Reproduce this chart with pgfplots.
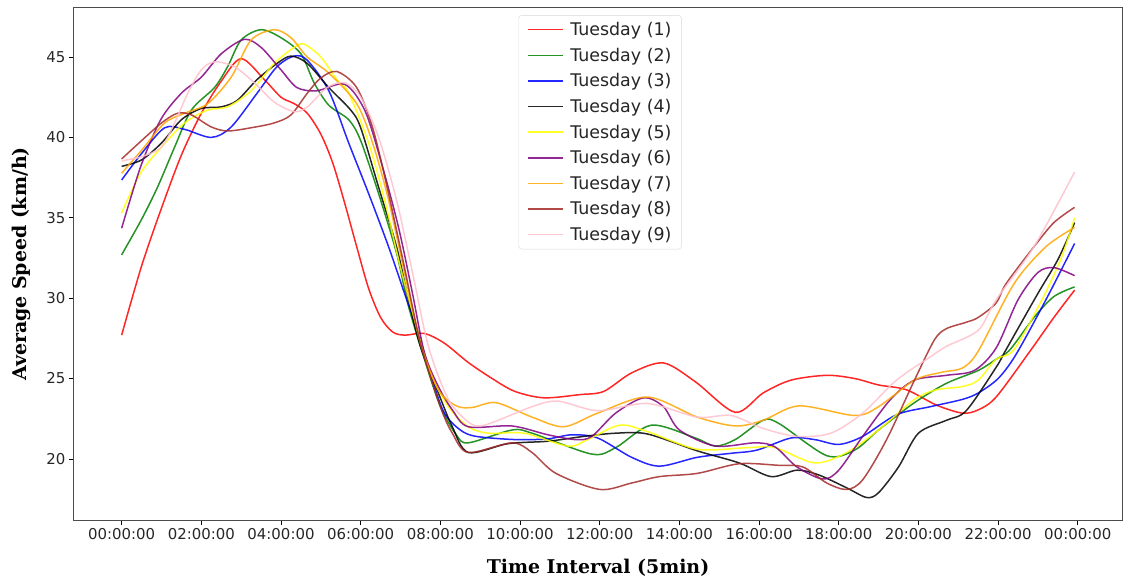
\documentclass[border=0pt]{standalone}
\usepackage{fontspec}
\setmainfont{DejaVu Sans}
\newfontfamily\labelserif{DejaVu Serif}
\usepackage{pgfplots}
\pgfplotsset{compat=1.18}
\definecolor{mred}{rgb}{1,0,0}
\definecolor{mgreen}{rgb}{0,0.5,0}
\definecolor{mblue}{rgb}{0,0,1}
\definecolor{mblack}{rgb}{0,0,0}
\definecolor{myellow}{rgb}{1,1,0}
\definecolor{mpurple}{rgb}{0.5,0,0.5}
\definecolor{morange}{rgb}{1,0.647,0}
\definecolor{mbrown}{rgb}{0.647,0.165,0.165}
\definecolor{mpink}{rgb}{1,0.753,0.796}
\begin{document}
\begin{tikzpicture}
\begin{axis}[
  at={(0,0)}, anchor=south west,
  scale only axis, width=1048bp, height=512bp,
  xmin=-1.196, xmax=25.11, ymin=16.2, ymax=48.05,
  xtick={0,2,...,24},
  xticklabels={00:00:00,02:00:00,04:00:00,06:00:00,08:00:00,10:00:00,12:00:00,14:00:00,16:00:00,18:00:00,20:00:00,22:00:00,00:00:00},
  ytick={20,25,30,35,40,45},
  xtick pos=lower, ytick pos=left,
  tick align=outside, major tick length=5bp,
  tick style={black, line width=0.8bp},
  axis line style={black!70, line width=1bp},
  tick label style={font=\fontsize{15}{18}\selectfont, text=black!85},
  /pgf/number format/assume math mode=true,
  xlabel={\labelserif\bfseries Time Interval (5min)},
  ylabel={\labelserif\bfseries Average Speed (km/h)},
  label style={font=\fontsize{19}{22}\selectfont},
  xlabel style={yshift=-12bp},
  ylabel style={yshift=9bp},
  legend style={at={(0.502,0.986)}, anchor=north, draw=black!15, rounded corners=3bp,
    font=\fontsize{17.5}{20}\selectfont, text=black!85, row sep=6.9bp,
    inner xsep=8bp, inner ysep=5bp},
  legend cell align=left,
  legend image code/.code={\draw[mark repeat=2,mark phase=2,#1,line width=1.5bp] plot coordinates {(0bp,0bp) (17.5bp,0bp) (35bp,0bp)};\path (40bp,0bp);},
  every axis plot/.append style={line width=1.5bp, smooth, opacity=0.85},
]
\addplot[mred] table {
0 27.7
0.5 32.0
1.0 35.6
1.5 38.9
2.0 41.5
2.5 43.5
3.0 44.9
3.58 43.6
4.0 42.5
4.33 42.1
4.66 41.5
5.0 40.2
5.3 38.4
5.6 35.9
5.9 33.2
6.2 30.6
6.5 28.8
6.8 27.9
7.1 27.7
7.6 27.8
8.1 27.2
8.7 26.0
9.3 25.0
9.87 24.2
10.6 23.8
11.5 24.0
12.1 24.2
12.8 25.35
13.6 25.97
14.4 24.8
15.4 22.9
16.1 24.1
16.8 24.9
17.7 25.2
18.4 25.0
19.0 24.6
19.7 24.3
20.45 23.35
21.1 22.85
21.5 23.05
21.95 23.85
22.8 26.7
23.4 28.8
23.92 30.5
};
\addlegendentry{Tuesday (1)}
\addplot[mgreen] table {
0 32.7
0.5 34.9
0.9 36.9
1.33 39.4
1.75 41.7
2.33 43.1
2.66 44.4
3.0 46.06
3.5 46.7
4.0 46.2
4.5 45.2
4.83 43.4
5.2 42.0
5.7 41.1
6.0 39.8
6.45 36.5
6.9 32.8
7.2 29.5
7.6 26.2
8.0 23.25
8.4 21.5
8.7 21.0
9.8 21.8
10.3 21.6
11.8 20.3
12.4 20.7
13.3 22.1
14.4 21.3
14.9 20.8
15.4 21.2
16.1 22.4
16.5 22.2
17.7 20.2
18.4 20.55
19.0 21.8
19.9 23.5
20.7 24.7
21.5 25.5
21.95 26.2
22.3 26.8
22.9 28.8
23.4 30.1
23.92 30.7
};
\addlegendentry{Tuesday (2)}
\addplot[mblue] table {
0 37.35
0.5 39.0
1.08 40.6
1.58 40.5
2.25 40.0
2.75 40.65
3.4 42.75
3.9 44.4
4.33 45.06
4.66 44.8
5.2 42.9
5.7 39.65
6.2 36.5
6.7 33.2
7.1 30.3
7.45 27.8
7.8 24.9
8.1 22.85
8.5 21.8
8.9 21.4
9.9 21.2
10.7 21.25
11.3 21.5
11.95 21.3
12.8 20.1
13.5 19.55
14.45 20.1
15.3 20.35
15.95 20.55
16.8 21.3
17.4 21.2
18.0 20.9
18.6 21.4
19.45 22.75
20.3 23.25
21.1 23.7
21.5 24.1
22.0 25.0
22.45 26.5
23.2 29.9
23.92 33.4
};
\addlegendentry{Tuesday (3)}
\addplot[mblack] table {
0 38.2
0.5 38.6
1.0 39.65
1.5 41.1
2.0 41.8
2.5 41.9
2.9 42.3
3.4 43.6
3.9 44.6
4.25 45.06
4.66 44.6
5.2 43.1
5.75 41.7
6.0 40.6
6.45 36.9
6.9 33.2
7.2 29.9
7.5 27.0
7.95 24.1
8.3 22.0
8.7 20.4
9.7 20.95
10.7 21.1
11.6 21.4
12.4 21.6
13.2 21.55
14.45 20.5
15.5 19.75
16.3 18.9
16.95 19.3
17.5 19.0
18.2 18.2
18.7 17.6
19.0 17.9
19.5 19.5
20.0 21.6
20.7 22.4
21.2 23.0
21.95 25.7
22.2 26.8
23.0 30.3
23.5 32.4
23.92 34.7
};
\addlegendentry{Tuesday (4)}
\addplot[myellow] table {
0 35.3
0.48 37.8
1.0 39.4
1.58 40.9
2.16 41.7
2.66 41.9
3.25 42.9
3.83 44.6
4.33 45.6
4.58 45.8
5.0 45.0
5.4 43.6
5.7 42.75
6.2 39.65
6.6 36.1
7.0 31.9
7.45 27.8
7.8 25.1
8.2 23.25
8.7 22.0
9.2 21.6
10.1 21.6
11.2 20.8
11.7 21.2
12.5 22.1
13.2 21.7
14.45 20.6
15.7 20.7
16.4 20.7
17.4 19.75
18.2 20.4
19.0 21.8
19.9 23.7
20.45 24.3
21.1 24.5
21.5 24.9
21.95 26.2
22.4 26.8
23.1 29.9
23.6 32.6
23.92 35.0
};
\addlegendentry{Tuesday (5)}
\addplot[mpurple] table {
0 34.35
0.48 38.2
0.98 41.1
1.5 42.75
2.0 43.75
2.5 45.2
3.08 46.1
3.5 45.6
4.0 44.2
4.4 43.1
4.9 42.9
5.6 43.3
6.1 41.7
6.5 38.6
6.95 34.4
7.3 30.3
7.6 26.6
7.95 24.5
8.3 23.05
8.7 22.0
9.8 22.05
10.7 21.5
11.4 21.2
11.8 21.4
12.4 22.85
13.1 23.8
13.6 23.25
14.0 21.8
14.9 20.8
15.9 21.0
16.4 20.75
16.95 19.5
17.6 18.75
18.0 19.3
18.6 21.4
19.3 23.7
19.9 24.9
20.7 25.2
21.4 25.5
21.95 26.9
22.5 29.9
23.0 31.6
23.4 31.9
23.92 31.4
};
\addlegendentry{Tuesday (6)}
\addplot[morange] table {
0 37.77
0.5 39.2
1.08 40.9
1.58 41.5
2.16 42.1
2.75 43.75
3.25 46.06
3.83 46.7
4.25 46.2
4.66 45.0
5.2 44.0
5.9 42.1
6.3 39.65
6.7 36.1
7.1 31.6
7.5 27.2
7.95 24.3
8.4 23.3
8.8 23.2
9.4 23.5
10.3 22.6
11.1 22.0
11.95 22.85
13.2 23.85
14.45 22.6
15.4 22.05
16.1 22.4
17.0 23.3
18.4 22.7
19.0 23.25
19.9 24.9
20.6 25.4
21.1 25.65
21.5 26.7
22.4 30.9
23.2 33.2
23.92 34.4
};
\addlegendentry{Tuesday (7)}
\addplot[mbrown] table {
0 38.66
0.5 39.8
1.0 40.9
1.4 41.5
1.75 41.4
2.25 40.65
2.66 40.4
3.25 40.6
3.83 40.9
4.25 41.4
4.66 42.75
5.0 43.7
5.4 44.1
5.9 43.1
6.3 40.6
6.7 36.5
7.1 31.9
7.5 27.2
8.0 23.25
8.3 21.6
8.7 20.4
9.8 21.0
10.3 20.4
10.9 19.1
12.0 18.1
12.8 18.5
13.5 18.9
14.45 19.1
15.5 19.7
16.5 19.6
17.1 19.5
17.7 18.5
18.2 18.1
18.6 18.7
19.2 21.2
19.9 24.9
20.4 27.4
20.7 28.1
21.2 28.5
21.5 28.8
21.95 29.7
22.2 30.9
22.9 33.2
23.4 34.7
23.92 35.65
};
\addlegendentry{Tuesday (8)}
\addplot[mpink] table {
0 38.55
0.5 38.8
1.0 39.4
1.33 40.9
1.66 42.75
2.0 44.2
2.33 44.7
2.83 44.4
3.33 43.4
3.83 42.2
4.33 41.6
4.66 41.9
5.16 43.1
5.6 43.4
6.0 42.5
6.45 40.0
6.9 36.1
7.3 31.6
7.7 27.0
8.2 23.7
8.7 22.3
9.0 22.05
9.45 22.4
10.3 23.25
10.95 23.6
11.95 23.0
13.2 23.45
14.45 22.6
15.3 22.7
16.1 21.9
16.95 21.4
17.8 21.6
18.6 22.85
19.45 24.9
20.3 26.35
20.7 27.0
21.5 28.0
21.95 29.9
22.9 33.2
23.92 37.85
};
\addlegendentry{Tuesday (9)}
\end{axis}
\pgfresetboundingbox
\path[use as bounding box] (-74bp,-61bp) rectangle (1049bp,520bp);
\end{tikzpicture}
\end{document}
